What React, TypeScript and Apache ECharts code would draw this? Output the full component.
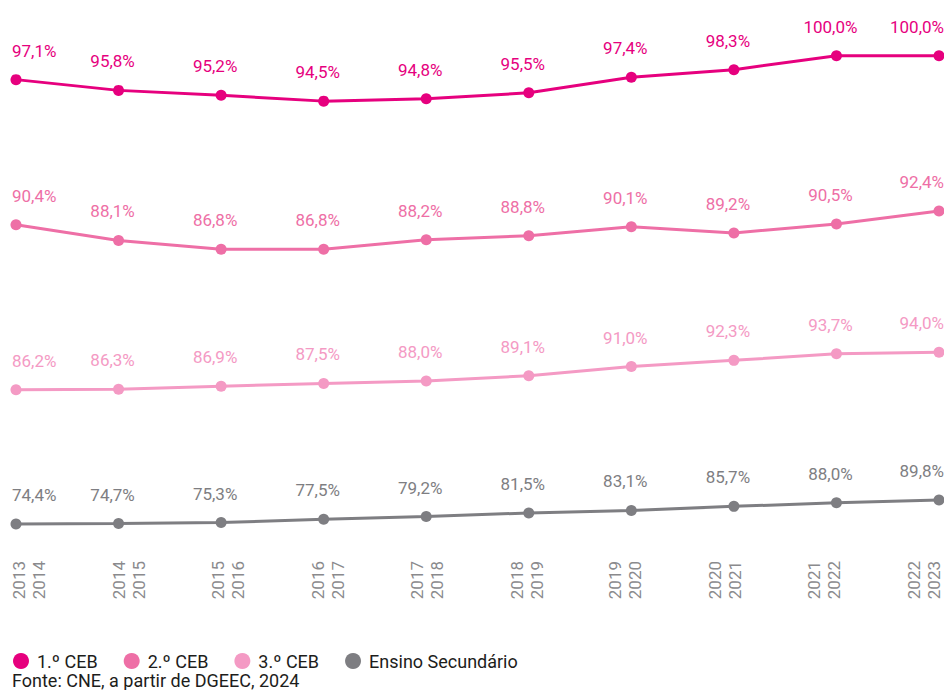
import React, { useEffect, useRef } from "react";
import * as echarts from "echarts";

const categories = [
  "2013\n2014", "2014\n2015", "2015\n2016", "2016\n2017", "2017\n2018",
  "2018\n2019", "2019\n2020", "2020\n2021", "2021\n2022", "2022\n2023",
];
const ceb1 = [97.1, 95.8, 95.2, 94.5, 94.8, 95.5, 97.4, 98.3, 100.0, 100.0];
const ceb2 = [90.4, 88.1, 86.8, 86.8, 88.2, 88.8, 90.1, 89.2, 90.5, 92.4];
const ceb3 = [86.2, 86.3, 86.9, 87.5, 88.0, 89.1, 91.0, 92.3, 93.7, 94.0];
const secundario = [74.4, 74.7, 75.3, 77.5, 79.2, 81.5, 83.1, 85.7, 88.0, 89.8];
const seriesNames = ["1.º CEB", "2.º CEB", "3.º CEB", "Ensino Secundário"];
const source = "Fonte: CNE, a partir de DGEEC, 2024";

const FONT = "Roboto, 'DejaVu Sans', sans-serif";
const colors = ["#e6007e", "#ee6fa6", "#f49ac4", "#7e7e82"];
const AXIS_GREY = "#8a8a8d";
// each series drawn in its own band via a hidden y axis
const axisRanges: [number, number][] = [
  [42.64, 104.31],
  [45.64, 120.42],
  [56.96, 163.21],
  [70.55, 397.45],
];

const fmt = (v: number) => v.toFixed(1).replace(".", ",") + "%";

export default function App() {
  const ref = useRef<HTMLDivElement>(null);
  useEffect(() => {
    document.body.style.margin = "0";
    const chart = echarts.init(ref.current!, null, { renderer: "svg" });
    const all = [ceb1, ceb2, ceb3, secundario];
    const n = categories.length;
    // horizontal nudge of the rotated year labels (layout only): a spacer line
    const shifts = categories.map((_, i) => Math.round(13 - 3.1 * i));
    const rich: Record<string, any> = {};
    shifts.forEach((s, i) => {
      rich["s" + i] = { fontSize: 1, lineHeight: Math.max(1, Math.abs(s) * 2) };
    });
    chart.setOption({
      animation: false,
      backgroundColor: "#ffffff",
      textStyle: { fontFamily: FONT },
      grid: {
        left: 16,
        right: 5,
        top: 20,
        height: 510,
        containLabel: false,
        outerBoundsMode: "none",
      },
      xAxis: {
        type: "category",
        data: categories,
        boundaryGap: false,
        axisLine: { show: false },
        axisTick: { show: false },
        splitLine: { show: false },
        axisLabel: {
          rotate: 90,
          margin: 31,
          fontSize: 17,
          lineHeight: 20,
          color: AXIS_GREY,
          fontFamily: FONT,
          interval: 0,
          formatter: (val: string, idx: number) => {
            const s = shifts[idx];
            if (s === 0) return val;
            return s > 0 ? `{s${idx}| }\n${val}` : `${val}\n{s${idx}| }`;
          },
          rich,
        },
      },
      yAxis: axisRanges.map(([min, max]) => ({
        type: "value",
        min,
        max,
        show: false,
        splitLine: { show: false },
      })),
      legend: {
        left: 13,
        top: 652,
        padding: 0,
        icon: "circle",
        itemWidth: 16,
        itemHeight: 16,
        itemGap: 26,
        data: seriesNames,
        textStyle: {
          fontSize: 18,
          color: "#1d1d1b",
          fontFamily: FONT,
          padding: [0, 0, 0, 3],
        },
      },
      graphic: [
        {
          type: "text",
          left: 12,
          top: 671,
          style: {
            text: source,
            fontSize: 18,
            fill: "#1d1d1b",
            fontFamily: FONT,
          },
        },
      ],
      series: all.map((arr, si) => ({
        name: seriesNames[si],
        type: "line",
        yAxisIndex: si,
        symbol: "circle",
        symbolSize: 11,
        color: colors[si],
        lineStyle: { width: 3, color: colors[si] },
        itemStyle: { color: colors[si] },
        label: {
          show: true,
          position: "top",
          distance: 15,
          offset: [-6, 0],
          fontSize: 17,
          color: colors[si],
          fontFamily: FONT,
          formatter: (p: any) => fmt(p.value),
        },
        data: arr.map((v, i) => {
          if (i === 0) {
            return { value: v, label: { align: "left", offset: [-4, 0] } };
          }
          if (i === n - 1) {
            return { value: v, label: { align: "right", offset: [5, 0] } };
          }
          return v;
        }),
      })),
    });
    return () => chart.dispose();
  }, []);
  return <div ref={ref} style={{ width: 944, height: 690 }} />;
}
